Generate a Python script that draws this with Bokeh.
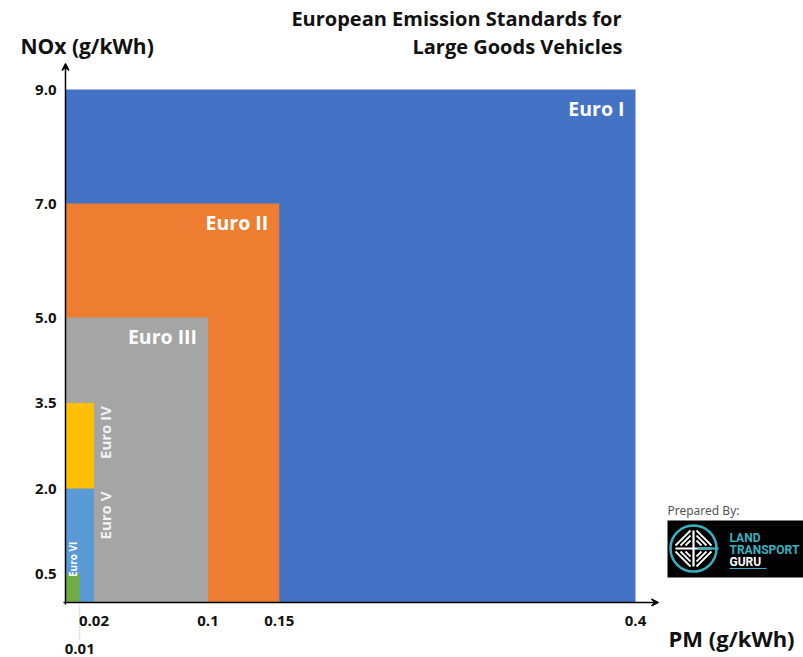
import math
from bokeh.plotting import figure
from bokeh.models import Range1d, Arrow, VeeHead
from bokeh.core.properties import value
from bokeh.embed import file_html
from bokeh.resources import INLINE

# ---------------- data ----------------
standards = ["Euro I", "Euro II", "Euro III", "Euro IV", "Euro V", "Euro VI"]
pm_limits = [0.4, 0.15, 0.1, 0.02, 0.02, 0.01]      # PM (g/kWh)
nox_limits = [9.0, 7.0, 5.0, 3.5, 2.0, 0.5]         # NOx (g/kWh)
colors = ["#4472C4", "#ED7D31", "#A5A5A5", "#FFC000", "#5B9BD5", "#70AD47"]

x_ticks = [0.02, 0.1, 0.15, 0.4]
x_tick_labels = ["0.02", "0.1", "0.15", "0.4"]
x_low_tick = [0.01]
x_low_tick_labels = ["0.01"]
y_ticks = [0.5, 2.0, 3.5, 5.0, 7.0, 9.0]
y_tick_labels = ["0.5", "2.0", "3.5", "5.0", "7.0", "9.0"]

title_lines = ["European Emission Standards for", "Large Goods Vehicles"]
x_title = "PM (g/kWh)"
y_title = "NOx (g/kWh)"

# ---------------- layout ----------------
W, H = 803, 657
OX, OY = 65, 602          # screen position of origin
SX, SY = 1425.0, 57.0     # px per data unit
X0 = -OX / SX
X1 = X0 + W / SX
Y1 = OY / SY
Y0 = Y1 - H / SY


def dx(sx):
    return X0 + sx / SX


def dy(sy):
    return (OY - sy) / SY


FONT = value("Open Sans")
INK = "#111111"

p = figure(width=W, height=H, x_range=Range1d(X0, X1), y_range=Range1d(Y0, Y1),
           output_backend="svg", toolbar_location=None, min_border=0)
p.axis.visible = False
p.grid.visible = False
p.outline_line_color = None
p.background_fill_color = "white"
p.border_fill_color = "white"

# rectangles
p.quad(left=[0] * len(pm_limits), right=pm_limits, bottom=[0] * len(pm_limits),
       top=nox_limits, fill_color=colors, line_color=None)

# horizontal labels (Euro I - III)
p.text(x=pm_limits[:3], y=nox_limits[:3], text=standards[:3], text_color="white",
       text_font=FONT, text_font_style="bold", text_font_size="19.5px",
       text_align="right", text_baseline="middle", x_offset=-11, y_offset=19)

# rotated labels (Euro IV, V)
p.text(x=pm_limits[3:5], y=nox_limits[3:5], text=standards[3:5], text_color="#f2f2f2",
       text_font=FONT, text_font_style="bold", text_font_size="15px", angle=math.pi / 2,
       text_align="right", text_baseline="middle", x_offset=11, y_offset=3)

# Euro VI
p.text(x=[0], y=nox_limits[5:], text=standards[5:], text_color="white",
       text_font=FONT, text_font_style="bold", text_font_size="10px", angle=math.pi / 2,
       text_align="left", text_baseline="middle", x_offset=7, y_offset=3)

# dotted guide to the 0.01 tick
p.segment(x0=x_low_tick, y0=[0], x1=x_low_tick, y1=[dy(639)], line_color="#8497b0",
          line_width=1, line_dash="1 2")

# axes arrows
p.add_layout(Arrow(end=VeeHead(size=7, line_color="black", line_width=1.2),
                   x_start=dx(OX - 2), y_start=0, x_end=dx(658), y_end=0,
                   line_color="black", line_width=1.5))
p.add_layout(Arrow(end=VeeHead(size=7, line_color="black", line_width=1.2),
                   x_start=0, y_start=dy(OY + 2), x_end=0, y_end=dy(63),
                   line_color="black", line_width=1.5))

# tick labels
p.text(x=x_ticks, y=[0] * len(x_ticks), text=x_tick_labels, text_color=INK,
       text_font=FONT, text_font_style="bold", text_font_size="15px",
       text_align="center", text_baseline="middle", y_offset=18)
p.text(x=x_low_tick, y=[0], text=x_low_tick_labels, text_color=INK,
       text_font=FONT, text_font_style="bold", text_font_size="15px",
       text_align="center", text_baseline="middle", y_offset=46)
p.text(x=[0] * len(y_ticks), y=y_ticks, text=y_tick_labels, text_color=INK,
       text_font=FONT, text_font_style="bold", text_font_size="15px",
       text_align="right", text_baseline="middle", x_offset=-9)

# axis titles
p.text(x=[dx(20)], y=[dy(45)], text=[y_title], text_color=INK, text_font=FONT,
       text_font_style="bold", text_font_size="21px", text_align="left",
       text_baseline="middle")
p.text(x=[dx(668)], y=[dy(637)], text=[x_title], text_color=INK, text_font=FONT,
       text_font_style="bold", text_font_size="22px", text_align="left",
       text_baseline="middle")

# chart title
p.text(x=[dx(621), dx(622)], y=[dy(18), dy(46)], text=title_lines, text_color=INK,
       text_font=FONT, text_font_style="bold", text_font_size="20px",
       text_align="right", text_baseline="middle")

# "Prepared By" logo
p.text(x=[dx(667)], y=[dy(510)], text=["Prepared By:"], text_color="#555555",
       text_font=value("Noto Sans"), text_font_size="12px", text_align="left",
       text_baseline="middle")
p.quad(left=[dx(667)], right=[dx(803)], top=[dy(520)], bottom=[dy(577)],
       fill_color="black", line_color=None)
cx, cy, r = 693, 548, 23
TEAL = "#36b3c2"
p.circle(x=[dx(cx)], y=[dy(cy)], radius=r / SX, fill_color=None,
         line_color=TEAL, line_width=2.5)
p.segment(x0=[dx(cx), dx(cx - r + 5)], y0=[dy(cy - r + 5), dy(cy)],
          x1=[dx(cx), dx(cx + r - 5)], y1=[dy(cy + r - 5), dy(cy)],
          line_color="white", line_width=2.2)
p.segment(x0=[dx(cx + 4)], y0=[dy(cy)], x1=[dx(cx + r + 2)], y1=[dy(cy)],
          line_color=TEAL, line_width=2.2)
chev_x, chev_y = [], []
for sgx in (-1, 1):
    for sgy in (-1, 1):
        for k in (5, 10, 15):
            chev_x.append([dx(cx + sgx * 3), dx(cx + sgx * (k + 3)), dx(cx + sgx * (k + 3))])
            chev_y.append([dy(cy + sgy * (k + 3)), dy(cy + sgy * (k + 3)), dy(cy + sgy * 3)])
p.multi_line(xs=[[c[0], c[1]] for c in chev_x], ys=[[c[0], c[2]] for c in chev_y],
             line_color="white", line_width=1.8)
p.multi_line(xs=[[c[0], c[2]] for c in chev_x], ys=[[c[0], c[2]] for c in chev_y],
             line_color="white", line_width=0)
p.text(x=[dx(729)] * 3, y=[dy(537), dy(549), dy(561)], text=["LAND", "TRANSPORT", "GURU"],
       text_color=[TEAL, TEAL, "white"], text_font=value("Roboto"),
       text_font_style="bold", text_font_size="12px", text_align="left",
       text_baseline="middle")
p.segment(x0=[dx(729)], y0=[dy(568)], x1=[dx(766)], y1=[dy(568)],
          line_color=TEAL, line_width=1)

open("out.html", "w").write(file_html(p, INLINE))
